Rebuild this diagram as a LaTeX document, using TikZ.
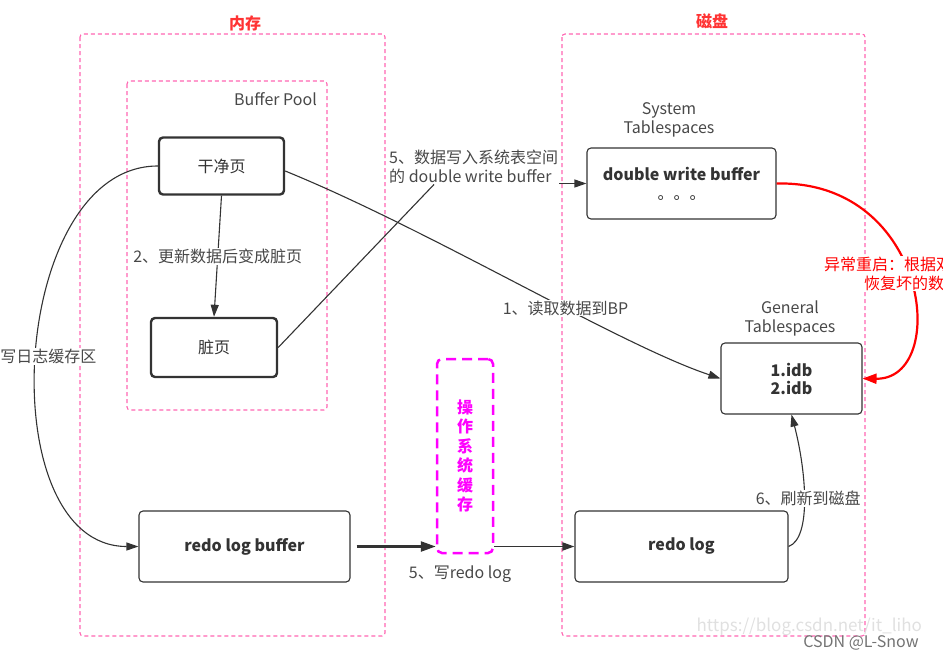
\documentclass[tikz,border=0pt]{standalone}
\usepackage{fontspec}
\setmainfont{Noto Sans CJK SC}
\usetikzlibrary{arrows.meta}
\definecolor{areapink}{RGB}{255,102,178}
\definecolor{oscolor}{RGB}{255,0,255}
\definecolor{titlered}{RGB}{255,51,51}
\definecolor{darkline}{RGB}{51,51,51}
\definecolor{labelgray}{RGB}{72,72,72}

\begin{document}
\begin{tikzpicture}[x=1pt,y=-1pt,
	area/.style={draw=areapink, line width=1.1pt, dash pattern=on 4pt off 3pt, rounded corners=3pt},
	title/.style={text=titlered, font=\fontsize{16}{19}\selectfont\bfseries},
	box/.style={draw=darkline, rounded corners=4pt, line width=1.1pt, fill=white, text=darkline, font=\fontsize{16}{19}\selectfont\bfseries, align=center},
	pagebox/.style={box, line width=2.4pt, font=\fontsize{16}{19}\selectfont},
	lbl/.style={text=labelgray, font=\fontsize{16}{19}\selectfont, fill=white, inner sep=1pt, align=center},
	arr/.style={draw=darkline, line width=1.1pt, -{Triangle[length=12pt,width=8pt]}},
	fatarr/.style={draw=darkline, line width=2.4pt, -{Triangle[length=15pt,width=10pt]}},
	redarr/.style={draw=red, line width=2.2pt, -{Triangle[length=14pt,width=10pt]}}]
\useasboundingbox (0,0) rectangle (943,659);

% memory and disk
\draw[area] (80,34) rectangle (385,636);
\draw[area] (127,81) rectangle (327,410);
\draw[area] (562,34) rectangle (865,636);
\node(mem) at (245,23) [title] {内存};
\node(disk) at (712,21) [title] {磁盘};
\node(bp) at (318,99) [lbl, anchor=east, fill=none] {Buffer Pool};
\node(systs) at (669,119.5) [lbl, fill=none] {System\\Tablespaces};
\node(gents) at (790,318.5) [lbl, fill=none] {General\\Tablespaces};

\node(clean) at (221.5,166) [pagebox, minimum width=125pt, minimum height=57pt] {干净页};
\node(dirty) at (214,347.5) [pagebox, minimum width=126pt, minimum height=59pt] {脏页};
\node(rlb) at (244.5,546.5) [box, minimum width=211pt, minimum height=71pt] {redo log buffer};
\node(redo) at (681.5,546.5) [box, minimum width=213pt, minimum height=71pt] {redo log};
\node(dwb) at (681.5,183.5) [box, minimum width=189pt, minimum height=71pt] {double write buffer\\{\mdseries 。。。}};
\node(gen) at (791.5,378.5) [box, minimum width=141pt, minimum height=71pt, font=\fontsize{16}{18}\selectfont\bfseries] {1.idb\\2.idb};
\node(oscache) at (465,456) [draw=oscolor, line width=2.5pt, dash pattern=on 10pt off 6pt, rounded corners=5pt,
	minimum width=56pt, minimum height=194pt, text=oscolor, align=center,
	font=\fontsize{16}{19.5}\selectfont\bfseries] {操\\作\\系\\统\\缓\\存};

\draw[arr] (clean.south) -- (dirty.north) node[lbl, pos=0.5] {2、更新数据后变成脏页};
\draw[arr] ([yshift=-5pt]clean.east) .. controls (430,230) and (620,345) .. (gen.west)
	node[lbl, pos=0.6] {1、读取数据到BP};
\draw[arr] (clean.west) to[out=180,in=180] node[lbl, pos=0.5, xshift=12pt] {写日志缓存区} (rlb.west);

\node(dwlbl) at (388,166.5) [lbl, anchor=west, align=left, fill=none] {5、数据写入系统表空间\\的 double write buffer};
\draw[darkline, line width=1.1pt] (dirty.east) -- ([xshift=46pt]dwlbl.south west);
\draw[arr] (dwlbl.east |- dwb.west) -- (dwb.west);

\draw[fatarr] ([xshift=6pt]rlb.east) -- (rlb.east -| oscache.west);
\draw[arr, line width=1.8pt] (rlb.east -| oscache.east) -- (redo.west);
\node(wrlbl) at (460,574.5) [lbl] {5、写redo log};

\draw[arr] (redo.east) .. controls (812,538) and (806,470) .. (gen.south)
	node[lbl, pos=0.5, xshift=4pt] {6、刷新到磁盘};

\draw[redarr] (dwb.east) .. controls (930,180) and (950,380) .. (gen.east);
\node(restart) at (823,273.5) [lbl, anchor=west, align=left, text=red] {异常重启：根据双\\\hspace*{40pt}恢复坏的数};

% watermark
\node(url) at (693,627) [anchor=west, text=black!12, font=\fontsize{17}{20}\selectfont] {https://blog.csdn.net/it\_liho};
\node(csdn) at (861,643) [text=black!55, font=\fontsize{16}{19}\selectfont] {CSDN @L-Snow};
\end{tikzpicture}
\end{document}
